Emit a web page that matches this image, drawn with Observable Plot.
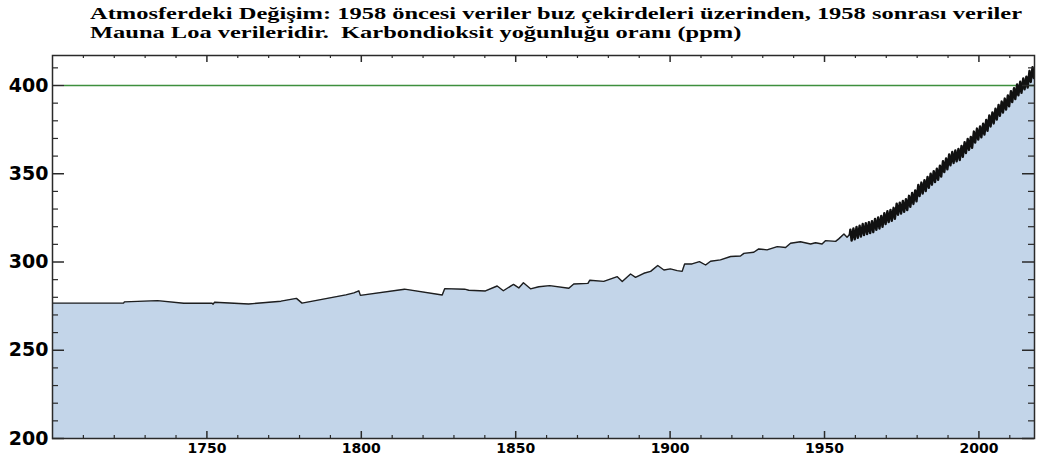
<!DOCTYPE html>
<html><head><meta charset="utf-8">
<script src="https://cdn.jsdelivr.net/npm/d3@7"></script>
<script src="https://cdn.jsdelivr.net/npm/@observablehq/plot@0.6"></script>
<style>
body{margin:0;background:#fff;width:1038px;height:456px;overflow:hidden}
#title{height:50px;position:relative;font-family:"Liberation Serif","Times New Roman",serif;font-weight:bold;font-size:17px;color:#000}
#title div{position:absolute;left:90px;white-space:pre;transform-origin:0 0;line-height:18px}
#chart svg{display:block}
</style></head><body>
<div id="title"><div id="t1" style="top:5px">Atmosferdeki Değişim: 1958 öncesi veriler buz çekirdeleri üzerinden, 1958 sonrası veriler</div><div id="t2" style="top:24px">Mauna Loa verileridir.  Karbondioksit yoğunluğu oranı (ppm)</div></div>
<div id="chart"></div>
<script>
// Ice-core record (pre-1958)
const iceYears = [1700,1723,1723.3,1734,1742.5,1751.7,1752,1752.5,1763.5,1774,1779,1780.8,1795,1797.6,1799.2,1799.7,1814,1826.2,1827,1833.5,1834.8,1840.2,1844,1846,1848.5,1849.3,1851,1852.5,1854.8,1857.5,1861,1867.2,1868.8,1873.4,1874,1878.5,1882.9,1884.5,1887.2,1888.8,1891.5,1893.7,1896,1898,1900.1,1902.3,1903.9,1904.7,1907.1,1909.5,1911.5,1913.1,1916.3,1919.6,1922.8,1923.9,1927.1,1928.7,1931.4,1934.7,1937.4,1939,1942.2,1945.5,1947.1,1949.2,1950.3,1953.6,1954.6,1956.3,1957.3];
const icePpm = [276.7,276.7,277.4,278.1,276.6,276.6,276.1,277.2,276.2,277.8,279.4,276.7,281.4,282.5,283.7,281.1,284.6,281.3,284.9,284.6,284.0,283.6,286.4,283.7,286.5,287.3,285.3,288.2,284.8,286.0,286.6,285.1,287.5,287.9,289.7,289.0,291.7,289.0,293.2,291.3,293.6,294.7,298.0,295.5,296.1,295.1,294.7,298.9,298.9,300.2,298.3,300.4,301.2,303.1,303.4,304.9,305.5,307.4,306.9,308.7,308.2,310.6,311.5,310.2,310.9,310.2,312.1,311.7,313.1,315.9,314.0];

// Mauna Loa record (1958 onward): yearly seasonal high (May) and low (autumn)
const mloStart = {year: 1958.2, ppm: 315.7};
const mloYears = [1958,1959,1960,1961,1962,1963,1964,1965,1966,1967,1968,1969,1970,1971,1972,1973,1974,1975,1976,1977,1978,1979,1980,1981,1982,1983,1984,1985,1986,1987,1988,1989,1990,1991,1992,1993,1994,1995,1996,1997,1998,1999,2000,2001,2002,2003,2004,2005,2006,2007,2008,2009,2010,2011,2012,2013,2014,2015,2016,2017,2018];
const mloHigh = [318.3,319.0,319.9,320.6,321.5,322.0,322.6,323.1,324.4,325.2,326.1,327.7,328.8,329.5,330.7,333.0,333.6,334.6,335.6,337.5,339.1,340.6,343.6,345.0,346.4,348.2,350.0,351.5,352.8,354.6,357.1,358.7,361.0,362.3,363.2,364.0,365.8,367.9,369.7,370.9,373.9,375.6,376.8,378.4,380.5,383.0,384.7,386.9,389.0,390.9,392.6,394.4,396.8,398.5,400.6,402.1,404.0,405.0,408.2,410.4,412.2];
const mloLow = [312.1,312.8,313.7,314.4,315.3,315.8,316.4,316.9,318.2,319.0,319.9,321.5,322.6,323.3,324.5,326.8,327.4,328.4,329.4,331.3,332.9,334.4,337.4,338.8,340.2,342.0,343.8,345.3,346.6,348.4,350.9,352.5,354.8,356.1,357.0,357.8,359.6,361.7,363.5,364.7,367.7,369.4,370.6,372.2,374.3,376.8,378.5,380.7,382.8,384.7,386.4,388.2,390.6,392.3,394.4,395.9,397.8,398.8,402.0,404.2];

// Axis ticks
const xLabels = [1750,1800,1850,1900,1950,2000];
const xMinor = [1710,1720,1730,1740,1760,1770,1780,1790,1810,1820,1830,1840,1860,1870,1880,1890,1910,1920,1930,1940,1960,1970,1980,1990,2010];
const yLabels = [200,250,300,350,400];
const yMinor = [210,220,230,240,260,270,280,290,310,320,330,340,360,370,380,390,410];
const threshold = [400];

const iceSeries = iceYears.map((y, i) => ({year: y, ppm: icePpm[i]}));
const mloSeries = [mloStart];
mloYears.forEach((y, i) => {
  mloSeries.push({year: y + 0.37, ppm: mloHigh[i]});
  if (mloLow[i] !== undefined) mloSeries.push({year: y + 0.78, ppm: mloLow[i]});
});
const series = iceSeries.concat(mloSeries);

const W = 1038, H = 406, mt = 5, mb = 18, ml = 52, mr = 4;
const fw = W - ml - mr, fh = H - mt - mb;
const ax = "#2a2a2a";

const chart = Plot.plot({
  width: W, height: H,
  marginTop: mt, marginBottom: mb, marginLeft: ml, marginRight: mr,
  x: {domain: [1700, 2018], label: null},
  y: {domain: [200, 417], label: null},
  style: {fontFamily: "'DejaVu Sans', sans-serif", background: "#fff", color: "#000"},
  marks: [
    Plot.areaY(series, {x: "year", y1: 200, y2: "ppm", fill: "#c3d5e9", clip: true}),
    Plot.ruleY(threshold, {stroke: "#3d8f3d", strokeWidth: 1.3, insetLeft: 12}),
    Plot.line(iceSeries.concat([mloStart]), {x: "year", y: "ppm", stroke: "#1e1e1e", strokeWidth: 1.4, clip: true}),
    Plot.line(mloSeries, {x: "year", y: "ppm", stroke: "#111", strokeWidth: 2.4, clip: true}),
    Plot.frame({stroke: ax, strokeWidth: 1.5}),
    // bottom ticks
    Plot.tickX(xLabels, {x: d => d, insetTop: fh - 7, stroke: ax, strokeWidth: 1.5}),
    Plot.tickX(xMinor, {x: d => d, insetTop: fh - 3, stroke: ax, strokeWidth: 1.2}),
    // top ticks
    Plot.tickX(xLabels, {x: d => d, insetBottom: fh - 7, stroke: ax, strokeWidth: 1.5}),
    Plot.tickX(xMinor, {x: d => d, insetBottom: fh - 3, stroke: ax, strokeWidth: 1.2}),
    // left ticks
    Plot.tickY(yLabels, {y: d => d, insetRight: fw - 12, stroke: ax, strokeWidth: 1.5}),
    Plot.tickY(yMinor, {y: d => d, insetRight: fw - 6, stroke: ax, strokeWidth: 1.2}),
    // right ticks
    Plot.tickY(yLabels, {y: d => d, insetLeft: fw - 12, stroke: ax, strokeWidth: 1.5}),
    Plot.tickY(yMinor, {y: d => d, insetLeft: fw - 6, stroke: ax, strokeWidth: 1.2}),
    Plot.axisX(xLabels, {tickSize: 0, tickPadding: 5, fontSize: 14, fontWeight: "bold", fill: "#000", tickFormat: d => String(d)}),
    Plot.axisY(yLabels, {tickSize: 0, tickPadding: 4, fontSize: 19, fontWeight: "bold", fill: "#000", tickFormat: d => String(d)})
  ]
});
document.getElementById("chart").appendChild(chart);

function fitTitle() {
  const t1 = document.getElementById("t1"), t2 = document.getElementById("t2");
  t1.style.transform = t2.style.transform = "none";
  const w = t1.getBoundingClientRect().width;
  const s = 932 / w;
  t1.style.transform = t2.style.transform = `scaleX(${s})`;
}
fitTitle();
if (document.fonts && document.fonts.ready) document.fonts.ready.then(fitTitle);
</script>
</body></html>
